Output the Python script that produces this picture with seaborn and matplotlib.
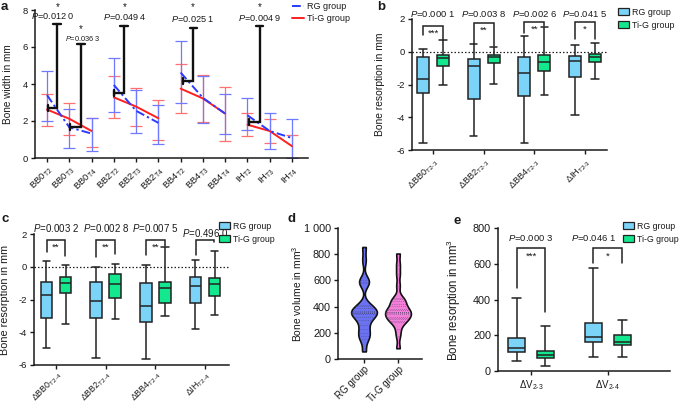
import numpy as np
import pandas as pd
import matplotlib
matplotlib.use("Agg")
import matplotlib.pyplot as plt
import seaborn as sns
from matplotlib.lines import Line2D
from matplotlib.patches import Patch
from matplotlib.ticker import FuncFormatter

# ---------------------------------------------------------------- data
# panel a : bone width (mean with error bars)
a_sites = ["BB0", "BB2", "BB4", "IH"]
a_times = ["T2", "T3", "T4"]
a_rg_mean = [3.40, 1.66, 1.32, 3.95, 2.55, 1.90, 4.62, 3.25, 2.40, 2.31, 1.46, 1.08]
a_rg_upper = [4.68, 2.65, 2.16, 5.42, 3.70, 2.88, 6.34, 4.42, 3.45, 3.24, 2.42, 2.10]
a_rg_lower = [2.00, 0.55, 0.40, 2.47, 1.33, 0.78, 2.96, 1.88, 1.30, 1.50, 0.47, 0.00]
a_tig_mean = [2.62, 2.12, 1.46, 3.28, 2.78, 2.15, 3.75, 3.22, 2.40, 1.80, 1.46, 0.64]
a_tig_upper = [3.45, 2.96, 2.18, 4.45, 3.78, 3.12, 5.10, 4.46, 3.82, 2.44, 2.12, 1.22]
a_tig_lower = [1.72, 1.25, 0.60, 2.15, 1.75, 0.98, 2.45, 1.92, 0.92, 1.18, 0.83, 0.00]
# significance annotations of panel a
a_pvals = ["0.012 0", "0.036 3", "0.049 4", "0.025 1", "0.004 9"]
a_br_x1 = [0.03, 1.03, 3.01, 6.09, 9.06]
a_br_x2 = [0.44, 1.53, 3.46, 6.57, 9.55]
a_br_low = [2.70, 1.68, 3.52, 4.17, 1.95]
a_br_top = [7.22, 6.16, 7.15, 7.04, 7.13]
a_txt_x = [0.28, 1.61, 3.50, 6.56, 9.54]
a_txt_y = [7.68, 6.47, 7.64, 7.51, 7.55]
a_star_x = [0.48, 1.53, 3.50, 6.56, 9.54]
a_star_y = [8.18, 6.96, 8.18, 8.18, 8.18]

# panel b : bone resorption T2-3 (min, q1, median, q3, max)
b_labels = ["ΔBB0$_{T2‐3}$", "ΔBB2$_{T2‐3}$", "ΔBB4$_{T2‐3}$", "ΔIH$_{T2‐3}$"]
b_rg_bb0 = [-5.60, -2.49, -1.67, -0.31, 0.16]
b_rg_bb2 = [-5.14, -2.86, -0.90, -0.45, 0.45]
b_rg_bb4 = [-5.60, -2.69, -1.29, -0.35, 0.96]
b_rg_ih = [-3.86, -1.57, -0.57, -0.24, 0.41]
b_tig_bb0 = [-2.04, -0.88, -0.41, -0.18, 0.73]
b_tig_bb2 = [-1.94, -0.67, -0.35, -0.18, 0.29]
b_tig_bb4 = [-2.63, -1.16, -0.65, -0.20, 1.53]
b_tig_ih = [-1.69, -0.61, -0.35, -0.16, 0.51]
b_pvals = ["0.000 1", "0.003 8", "0.002 6", "0.041 5"]
b_stars = ["***", "**", "**", "*"]
b_br_top = [1.57, 1.75, 1.80, 1.80]
b_br_left = [1.02, 0.47, 1.12, 0.78]
b_br_right = [0.71, 0.37, 1.55, 0.78]

# panel c : bone resorption T2-4
c_labels = ["ΔBB0$_{T2‐4}$", "ΔBB2$_{T2‐4}$", "ΔBB4$_{T2‐4}$", "ΔIH$_{T2‐4}$"]
c_rg_bb0 = [-4.98, -3.13, -1.74, -0.92, 0.35]
c_rg_bb2 = [-5.58, -3.13, -2.09, -0.92, -0.02]
c_rg_bb4 = [-5.65, -3.39, -2.37, -0.97, 0.11]
c_rg_ih = [-3.78, -2.19, -1.17, -0.62, 0.41]
c_tig_bb0 = [-3.50, -1.58, -0.97, -0.62, 0.15]
c_tig_bb2 = [-3.21, -1.88, -1.07, -0.40, 0.16]
c_tig_bb4 = [-3.01, -2.19, -1.30, -0.92, 1.21]
c_tig_ih = [-2.97, -1.79, -1.07, -0.65, 0.97]
c_pvals = ["0.003 2", "0.002 8", "0.007 5", "0.496 0"]
c_stars = ["**", "**", "**", ""]
c_br_top = [1.65, 1.65, 1.65, 1.65]
c_br_left = [0.93, 0.60, 0.76, 0.76]
c_br_right = [0.66, 0.80, 1.27, 1.50]
c_txt_y = [2.37, 2.37, 2.37, 2.06]

# panel d : bone volume (individual values)
d_rg = [58, 150, 172, 195, 228, 262, 300, 322, 340, 348, 352, 358, 366,
        388, 402, 414, 578, 590, 600, 752, 855]
d_tig = [82, 178, 232, 280, 292, 302, 312, 322, 342, 348, 356, 362, 372,
         382, 402, 422, 440, 456, 466, 560, 648, 720, 805]

# panel e : volumetric resorption
e_labels = ["ΔV$_{2‐3}$", "ΔV$_{2‐4}$"]
e_rg_v23 = [56, 105, 127, 183, 407]
e_rg_v24 = [80, 161, 193, 271, 576]
e_tig_v23 = [28, 71, 90, 112, 252]
e_tig_v24 = [77, 144, 164, 200, 286]
e_pvals = ["0.000 3", "0.046 1"]
e_stars = ["***", "*"]
e_br_top = [692, 692]
e_br_left = [464, 604]
e_br_right = [333, 604]
e_txt_x = [0.0, 0.82]

groups = ["RG group", "Ti-G group"]

# ---------------------------------------------------------------- style
sns.set_theme(style="ticks")
plt.rcParams.update({
    "font.family": ["Liberation Sans", "DejaVu Sans"],
    "mathtext.fontset": "custom",
    "mathtext.rm": "Liberation Sans",
    "mathtext.it": "Liberation Sans:italic",
    "mathtext.bf": "Liberation Sans:bold",
    "mathtext.default": "regular",
    "axes.unicode_minus": False,
    "axes.linewidth": 1.1,
    "axes.edgecolor": "#1a1a1a",
    "xtick.major.width": 1.0,
    "ytick.major.width": 1.0,
    "xtick.major.size": 3.0,
    "ytick.major.size": 3.0,
    "xtick.color": "#1a1a1a",
    "ytick.color": "#1a1a1a",
    "text.color": "#1a1a1a",
    "axes.labelcolor": "#1a1a1a",
})

BLUE_BOX = "#7BD3F7"
GREEN_BOX = "#14E88F"
EDGE = "#222222"
W, H = 680, 404

fig = plt.figure(figsize=(6.8, 4.04), dpi=100)


def axes_px(left, top, right, bottom):
    return fig.add_axes([left / W, 1 - bottom / H, (right - left) / W, (bottom - top) / H])


def ptext(ax, x, y, p, size, **kw):
    ax.text(x, y, "$\\mathit{P}$=" + p, ha="center", va="center", fontsize=size,
            clip_on=False, **kw)


def box_frame(cat_labels, rg_lists, tig_lists):
    rows = []
    for lab, r, t in zip(cat_labels, rg_lists, tig_lists):
        rows += [(lab, groups[0], v) for v in r]
        rows += [(lab, groups[1], v) for v in t]
    return pd.DataFrame(rows, columns=["cat", "group", "value"])


def draw_box(ax, df, width, capw):
    sns.boxplot(data=df, x="cat", y="value", hue="group", hue_order=groups,
                palette=[BLUE_BOX, GREEN_BOX], saturation=1, width=width, gap=0.4,
                whis=(0, 100), fliersize=0, linewidth=1.1, linecolor=EDGE,
                capwidths=capw, legend=False, ax=ax)


def bracket(ax, x1, x2, top, yl, yr):
    ax.plot([x1, x1, x2, x2], [yl, top, top, yr], color=EDGE, lw=1.1,
            solid_joinstyle="miter", clip_on=False)


def patch_legend(ax, x, y, size):
    handles = [Patch(facecolor=BLUE_BOX, edgecolor=EDGE, lw=0.9),
               Patch(facecolor=GREEN_BOX, edgecolor=EDGE, lw=0.9)]
    ax.legend(handles, groups, loc="upper left", bbox_to_anchor=(x / W, 1 - y / H),
              bbox_transform=fig.transFigure, frameon=False, fontsize=size,
              handlelength=1.25, handleheight=0.85, handletextpad=0.35,
              labelspacing=0.45, borderpad=0, borderaxespad=0)


def style_axes(ax):
    sns.despine(ax=ax)
    ax.tick_params(axis="both", direction="out", pad=2)


# ---------------------------------------------------------------- panel a
axa = axes_px(35, 10, 308, 158)
a_labels = [f"{s}$_{{{t}}}$" for s in a_sites for t in a_times]
a_pos = np.arange(len(a_labels))
a_seg = [s for s in a_sites for _ in a_times]
dfa = pd.DataFrame({"pos": a_pos, "seg": a_seg,
                    "rg": a_rg_mean, "tig": a_tig_mean})

axa.errorbar(a_pos, a_tig_mean,
             yerr=[np.array(a_tig_mean) - np.array(a_tig_lower),
                   np.array(a_tig_upper) - np.array(a_tig_mean)],
             fmt="none", ecolor="#FF7070", elinewidth=0.9, capsize=4.0, capthick=0.9,
             zorder=2)
axa.errorbar(a_pos, a_rg_mean,
             yerr=[np.array(a_rg_mean) - np.array(a_rg_lower),
                   np.array(a_rg_upper) - np.array(a_rg_mean)],
             fmt="none", ecolor="#6E7AFF", elinewidth=0.9, capsize=4.0, capthick=0.9,
             zorder=2)
sns.lineplot(data=dfa, x="pos", y="tig", units="seg", estimator=None,
             color="#FF2020", lw=1.4, ax=axa, zorder=3)
sns.lineplot(data=dfa, x="pos", y="rg", units="seg", estimator=None,
             color="#2B3BFF", lw=1.4, ax=axa, zorder=4)
for ln in axa.lines[-len(a_sites):]:
    ln.set_linestyle((0, (4.5, 1.6, 1.2, 1.6)))

for x1, x2, lo, tp in zip(a_br_x1, a_br_x2, a_br_low, a_br_top):
    axa.plot([x1, x2, x2], [lo, lo, tp], color="#111111", lw=1.7, zorder=5,
             solid_joinstyle="miter", clip_on=False)
    axa.plot([x1, x1], [lo - 0.15, lo + 0.15], color="#111111", lw=1.7, zorder=5)
    axa.plot([x2 - 0.17, x2 + 0.17], [tp, tp], color="#111111", lw=1.7, zorder=5,
             clip_on=False)
for i, (tx, ty, sx, sy, p) in enumerate(zip(a_txt_x, a_txt_y, a_star_x, a_star_y, a_pvals)):
    ptext(axa, tx, ty, p, 5.3 if i == 1 else 6.6)
    axa.text(sx, sy, "*", ha="center", va="center", fontsize=7, clip_on=False)

axa.set_xlim(-0.54, 11.72)
axa.set_ylim(0, 8)
axa.set_yticks([0, 2, 4, 6, 8])
axa.set_xticks(a_pos)
axa.set_xticklabels(a_labels, rotation=45, ha="right", rotation_mode="anchor", fontsize=6.8)
axa.tick_params(axis="y", labelsize=6.8)
axa.set_xlabel("")
axa.set_ylabel("Bone width in mm", fontsize=7.2)
axa.yaxis.set_label_coords(-0.082, 0.5)
style_axes(axa)
a_handles = [Line2D([], [], color="#2B3BFF", lw=1.4, ls=(0, (4.5, 1.6, 1.2, 1.6))),
             Line2D([], [], color="#FF2020", lw=1.4)]
axa.legend(a_handles, groups, loc="upper left", bbox_to_anchor=(292 / W, 1 - 2 / H),
           bbox_transform=fig.transFigure, frameon=False, fontsize=6.5,
           handlelength=1.3, handletextpad=0.4, labelspacing=0.35, borderpad=0,
           borderaxespad=0)

# ---------------------------------------------------------------- panel b
axb = axes_px(412, 19, 607, 150)
dfb = box_frame(b_labels, [b_rg_bb0, b_rg_bb2, b_rg_bb4, b_rg_ih],
                [b_tig_bb0, b_tig_bb2, b_tig_bb4, b_tig_ih])
draw_box(axb, dfb, 0.79, 0.15)
axb.axhline(0, color="#222222", lw=0.9, ls=(0, (1.2, 1.6)), zorder=0)
for i in range(len(b_labels)):
    bracket(axb, i - 0.197, i + 0.197, b_br_top[i], b_br_left[i], b_br_right[i])
    axb.text(i, b_br_top[i] - 0.42, b_stars[i], ha="center", va="center", fontsize=6.8)
    ptext(axb, i, 2.31, b_pvals[i], 6.8)
axb.set_xlim(-0.414, 3.434)
axb.set_ylim(-6, 2)
axb.set_yticks([-6, -4, -2, 0, 2])
axb.set_xticklabels(b_labels, rotation=45, ha="right", rotation_mode="anchor", fontsize=6.6)
axb.tick_params(axis="y", labelsize=6.8)
axb.set_xlabel("")
axb.set_ylabel("Bone resorption in mm", fontsize=7.4)
axb.yaxis.set_label_coords(-0.138, 0.5)
style_axes(axb)
patch_legend(axb, 618, 8, 6.4)

# ---------------------------------------------------------------- panel c
axc = axes_px(34, 234.3, 229, 365)
dfc = box_frame(c_labels, [c_rg_bb0, c_rg_bb2, c_rg_bb4, c_rg_ih],
                [c_tig_bb0, c_tig_bb2, c_tig_bb4, c_tig_ih])
draw_box(axc, dfc, 0.77, 0.15)
axc.axhline(0, color="#222222", lw=0.9, ls=(0, (1.2, 1.6)), zorder=0)
for i in range(len(c_labels)):
    bracket(axc, i - 0.19, i + 0.19, c_br_top[i], c_br_left[i], c_br_right[i])
    if c_stars[i]:
        axc.text(i, c_br_top[i] - 0.42, c_stars[i], ha="center", va="center", fontsize=6.8)
    ptext(axc, i, c_txt_y[i], c_pvals[i], 7.0)
axc.set_xlim(-0.443, 3.483)
axc.set_ylim(-6, 2)
axc.set_yticks([-6, -4, -2, 0, 2])
axc.set_xticklabels(c_labels, rotation=45, ha="right", rotation_mode="anchor", fontsize=6.4)
axc.tick_params(axis="y", labelsize=6.8)
axc.set_xlabel("")
axc.set_ylabel("Bone resorption in mm", fontsize=7.8)
axc.yaxis.set_label_coords(-0.123, 0.5)
style_axes(axc)
axc.tick_params(axis="x", pad=0.5)
patch_legend(axc, 219, 222, 6.3)

# ---------------------------------------------------------------- panel d
axd = axes_px(338, 228, 422, 359)
dfd = pd.DataFrame({"group": [groups[0]] * len(d_rg) + [groups[1]] * len(d_tig),
                    "value": d_rg + d_tig})
sns.violinplot(data=dfd, x="group", y="value", hue="group", hue_order=groups,
               palette=["#6B72F2", "#F47FD8"], saturation=1, inner="stick", cut=0,
               bw_adjust=0.38, density_norm="width", width=0.76, linewidth=1.2,
               linecolor="#111111",
               inner_kws=dict(linestyle=(0, (0.8, 2.2)), linewidth=0.5, color="#3a3a5a"),
               legend=False, ax=axd)
axd.set_xlim(-0.765, 1.706)
axd.set_ylim(0, 1000)
axd.set_yticks([0, 200, 400, 600, 800, 1000])
axd.yaxis.set_major_formatter(FuncFormatter(lambda v, _: f"{int(v):,}".replace(",", " ")))
axd.set_xticks([0, 1])
axd.set_xticklabels(groups, rotation=45, ha="right", rotation_mode="anchor", fontsize=7.0)
axd.tick_params(axis="y", labelsize=7.8)
axd.set_xlabel("")
axd.set_ylabel("Bone volume in mm$^3$", fontsize=7.4)
axd.yaxis.set_label_coords(-0.405, 0.5)
style_axes(axd)
axd.tick_params(axis="x", pad=1)

# ---------------------------------------------------------------- panel e
axe = axes_px(498, 228.3, 670, 371)
dfe = box_frame(e_labels, [e_rg_v23, e_rg_v24], [e_tig_v23, e_tig_v24])
draw_box(axe, dfe, 0.75, 0.12)
for i in range(len(e_labels)):
    bracket(axe, i - 0.187, i + 0.187, e_br_top[i], e_br_left[i], e_br_right[i])
    axe.text(i, e_br_top[i] - 46, e_stars[i], ha="center", va="center", fontsize=6.8)
    ptext(axe, e_txt_x[i], 744, e_pvals[i], 6.8)
axe.set_xlim(-0.43, 1.81)
axe.set_ylim(0, 800)
axe.set_yticks([0, 200, 400, 600, 800])
axe.set_xticklabels(e_labels, fontsize=7.0)
axe.tick_params(axis="y", labelsize=7.8)
axe.set_xlabel("")
axe.set_ylabel("Bone resorption in mm$^3$", fontsize=8.3)
axe.yaxis.set_label_coords(-0.203, 0.5)
style_axes(axe)
patch_legend(axe, 623, 222, 6.3)

# ---------------------------------------------------------------- panel letters
for lab, x, y in [("a", 1, 7), ("b", 377, 7), ("c", 2, 219), ("d", 288, 219), ("e", 453, 221)]:
    fig.text(x / W, 1 - y / H, lab, fontsize=9.5, fontweight="bold", va="center", ha="left")

fig.savefig("out.png", dpi=100)
